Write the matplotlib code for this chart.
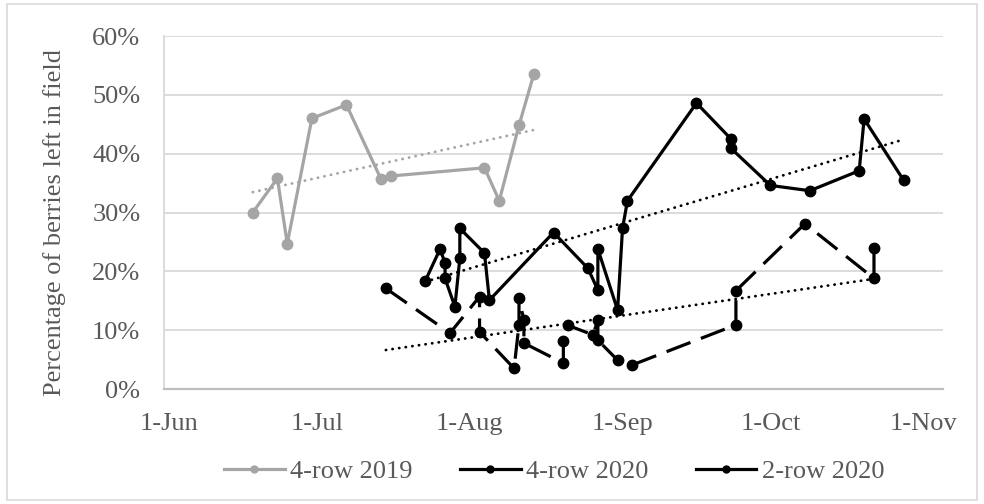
import matplotlib
matplotlib.use("Agg")
import matplotlib.pyplot as plt
import matplotlib.dates as mdates
from matplotlib.patches import Rectangle
from matplotlib.lines import Line2D
import numpy as np
import pandas as pd

# ---------------- data ----------------
# 4-row 2019 (plotted on the same calendar axis as 2020)
dates_4row_2019 = ["2019-06-18", "2019-06-23", "2019-06-25", "2019-06-30", "2019-07-07",
                   "2019-07-14", "2019-07-16", "2019-08-04", "2019-08-07", "2019-08-11",
                   "2019-08-14"]
pct_4row_2019 = [30.0, 35.8, 24.7, 46.0, 48.3, 35.7, 36.2, 37.6, 32.0, 44.8, 53.5]

dates_4row_2020 = ["2020-07-23", "2020-07-26", "2020-07-27", "2020-07-27", "2020-07-29",
                   "2020-07-30", "2020-07-30", "2020-08-04", "2020-08-05", "2020-08-18",
                   "2020-08-25", "2020-08-27", "2020-08-27", "2020-08-31", "2020-09-01",
                   "2020-09-02", "2020-09-16", "2020-09-23", "2020-09-23", "2020-10-01",
                   "2020-10-09", "2020-10-19", "2020-10-20", "2020-10-28"]
pct_4row_2020 = [18.4, 23.8, 21.4, 18.8, 14.0, 22.2, 27.3, 23.1, 15.1, 26.6,
                 20.5, 16.8, 23.8, 13.4, 27.3, 32.0, 48.6, 42.5, 40.9, 34.6,
                 33.7, 37.1, 45.9, 35.5]

dates_2row_2020 = ["2020-07-15", "2020-07-28", "2020-08-03", "2020-08-03", "2020-08-10",
                   "2020-08-11", "2020-08-11", "2020-08-12", "2020-08-12", "2020-08-20",
                   "2020-08-20", "2020-08-21", "2020-08-26", "2020-08-27", "2020-08-27",
                   "2020-08-31", "2020-09-03", "2020-09-24", "2020-09-24", "2020-10-08",
                   "2020-10-22", "2020-10-22"]
pct_2row_2020 = [17.1, 9.5, 15.7, 9.7, 3.5, 10.9, 15.4, 11.7, 7.8, 4.4,
                 8.2, 10.8, 9.2, 11.7, 8.3, 4.9, 4.1, 10.9, 16.7, 28.1,
                 18.8, 23.9]

series_labels = ["4-row 2019", "4-row 2020", "2-row 2020"]
x_tick_dates = ["2020-06-01", "2020-07-01", "2020-08-01", "2020-09-01", "2020-10-01", "2020-11-01"]
x_tick_labels = ["1-Jun", "1-Jul", "1-Aug", "1-Sep", "1-Oct", "1-Nov"]
y_ticks = [0, 10, 20, 30, 40, 50, 60]
y_label = "Percentage of berries left in field"

# ---------------- style ----------------
FONT = "Liberation Serif"
TXT = "#595959"
GRID = "#D9D9D9"
GRAY = "#A5A5A5"
FS = 19

plt.rcParams["font.family"] = [FONT, "DejaVu Serif"]

W, H = 984, 504
fig = plt.figure(figsize=(W / 100, H / 100), dpi=100)
L, R, T, B = 164, 943, 36, 389
ax = fig.add_axes([L / W, 1 - B / H, (R - L) / W, (B - T) / H])

# chart border
fig.patches.append(Rectangle((7 / W, 4 / H), (977 - 7) / W, (500 - 4) / H,
                             transform=fig.transFigure, fill=False,
                             edgecolor=GRID, lw=1.2))


def to_2020(ds):
    d = pd.to_datetime(ds)
    return pd.to_datetime(["2020-" + x.strftime("%m-%d") for x in d])


x19 = to_2020(dates_4row_2019)
x20a = pd.to_datetime(dates_4row_2020)
x20b = pd.to_datetime(dates_2row_2020)

lw = 2.3
ms = 7.5
ax.plot(x19, pct_4row_2019, color=GRAY, lw=lw, marker="o", ms=ms, zorder=3)
ax.plot(x20a, pct_4row_2020, color="black", lw=lw, marker="o", ms=ms, zorder=4)
ax.plot(x20b, pct_2row_2020, color="black", lw=lw, marker="o", ms=ms, zorder=4,
        linestyle=(0, (8, 3.5)))


def trend(xd, y, color):
    xn = mdates.date2num(xd)
    k, b = np.polyfit(xn, y, 1)
    xs = np.array([xn.min(), xn.max()])
    ax.plot(mdates.num2date(xs), k * xs + b, color=color, lw=2.0,
            linestyle=(0, (0.1, 2.3)), dash_capstyle="round", zorder=5)


trend(x19, pct_4row_2019, GRAY)
trend(x20a, pct_4row_2020, "black")
trend(x20b, pct_2row_2020, "black")

# axes
ax.set_xlim(pd.Timestamp("2020-05-31"), pd.Timestamp("2020-11-05"))
ax.set_ylim(0, 60)
ax.set_yticks(y_ticks)
ax.set_yticklabels([f"{v}%" for v in y_ticks])
ax.set_xticks(pd.to_datetime(x_tick_dates))
ax.set_xticklabels(x_tick_labels)
ax.tick_params(axis="both", length=0, labelsize=FS, labelcolor=TXT)
ax.tick_params(axis="y", pad=17)
ax.tick_params(axis="x", pad=17.5)
ax.grid(axis="y", color=GRID, lw=1.3, zorder=0)
ax.set_axisbelow(True)
for s in ["top", "right"]:
    ax.spines[s].set_visible(False)
ax.spines["left"].set_color(GRID)
ax.spines["left"].set_linewidth(1.3)
ax.spines["bottom"].set_color("#BFBFBF")
ax.spines["bottom"].set_linewidth(1.6)

fig.text(55 / W, 1 - 222 / H, y_label, rotation=90, ha="center", va="center",
         fontsize=FS, color=TXT)

handles = [
    Line2D([], [], color=GRAY, lw=lw, marker="o", ms=5),
    Line2D([], [], color="black", lw=lw, marker="o", ms=5),
    Line2D([], [], color="black", lw=lw, marker="o", ms=5),
]
fig.legend(handles, series_labels, loc="center", ncol=3, frameon=False,
           bbox_to_anchor=(554 / W, 1 - 471 / H), fontsize=FS, labelcolor=TXT,
           handlelength=2.3, handletextpad=0.2, columnspacing=1.8)

fig.savefig("out.png", dpi=100)
